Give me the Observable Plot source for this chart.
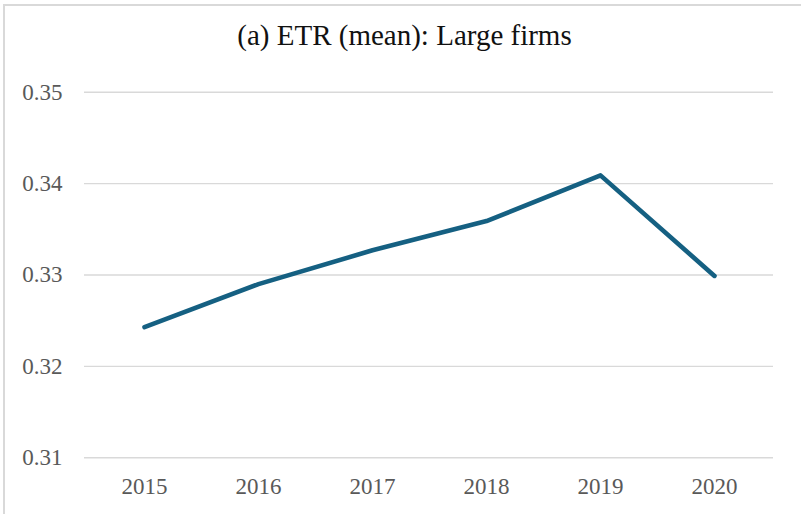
<!DOCTYPE html>
<html>
<head>
<meta charset="utf-8">
<script src="https://cdn.jsdelivr.net/npm/d3@7"></script>
<script src="https://cdn.jsdelivr.net/npm/@observablehq/plot@0.6"></script>
<style>
  html, body { margin: 0; padding: 0; background: #fff; }
  #wrap { position: relative; width: 801px; height: 514px; overflow: hidden; background: #fff; }
  #frame { position: absolute; left: 3px; top: 4px; width: 840px; height: 560px;
           border-left: 2px solid #d9d9d9; border-top: 2px solid #d9d9d9; box-sizing: border-box; }
  #title { position: absolute; left: 4px; top: 20.5px; width: 801px; text-align: center;
           font-family: "Times New Roman", Times, "Liberation Serif", "DejaVu Serif", serif; font-size: 29px; line-height: 29px;
           color: #111; margin: 0; font-weight: normal; }
  #chart { position: absolute; left: 0; top: 60px; }
  #chart svg text { font-family: "Times New Roman", Times, "Liberation Serif", "DejaVu Serif", serif !important; }
</style>
</head>
<body>
<div id="wrap">
  <div id="frame"></div>
  <div id="title">(a) ETR (mean): Large firms</div>
  <div id="chart"></div>
</div>
<script>
const years = ["2015", "2016", "2017", "2018", "2019", "2020"];
const etrMean = [0.3243, 0.3290, 0.3327, 0.3359, 0.3409, 0.3299];
const yTicks = [0.31, 0.32, 0.33, 0.34, 0.35];

const data = years.map((y, i) => ({year: y, value: etrMean[i]}));
const serif = "'Times New Roman', Times, 'Liberation Serif', 'DejaVu Serif', serif";

const chart = Plot.plot({
  width: 801,
  height: 454,
  marginTop: 31.7,
  marginBottom: 56.7,
  marginLeft: 84,
  marginRight: 28,
  style: {fontFamily: serif, fontSize: "23px", color: "#595959", background: "transparent"},
  x: {type: "point", domain: years, padding: 0.5, label: null},
  y: {domain: [0.31, 0.35], label: null},
  marks: [
    Plot.gridY(yTicks, {stroke: "#d9d9d9", strokeOpacity: 1, strokeWidth: 1.4}),
    Plot.axisY(yTicks, {tickSize: 0, tickPadding: 22, tickFormat: d3.format(".2f"), fill: "#595959", fontSize: 23, fontFamily: serif, label: null}),
    Plot.axisX({tickSize: 0, tickPadding: 20, fill: "#595959", fontSize: 23, fontFamily: serif, label: null}),
    Plot.line(data, {x: "year", y: "value", stroke: "#156082", strokeWidth: 4.6, strokeLinecap: "round", strokeLinejoin: "round"})
  ]
});
document.getElementById("chart").appendChild(chart);
</script>
</body>
</html>
